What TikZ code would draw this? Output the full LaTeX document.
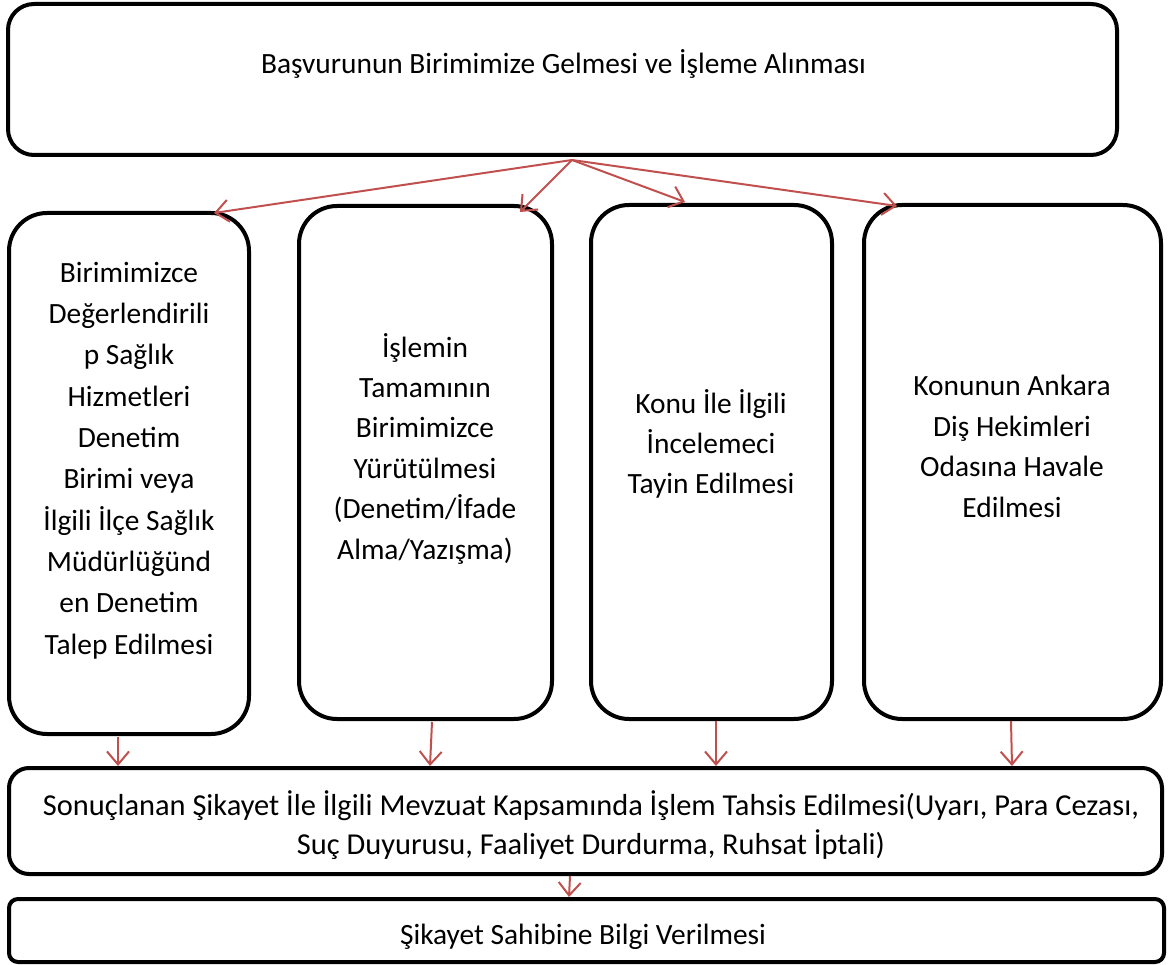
\documentclass[tikz,border=0pt]{standalone}
\usepackage{fontspec}
\setmainfont{Carlito}
\usetikzlibrary{arrows.meta,calc}
\definecolor{flowred}{RGB}{192,80,77}
\begin{document}
\begin{tikzpicture}[x=1pt,y=-1pt,
  box/.style={draw=black,line width=4pt,rectangle,inner sep=0pt},
  colbox/.style={box,rounded corners=38pt},
  txt/.style={align=center,inner sep=0pt,anchor=base,
    font=\fontsize{29.4}{41.3}\selectfont},
  flow/.style={draw=flowred,line width=2pt,
    -{Straight Barb[length=13pt,width=22pt,line width=2pt]}}]
\useasboundingbox (0,0) rectangle (1172,965);

% boxes
\node[box,rounded corners=26pt,minimum width=1109pt,minimum height=151pt] (top) at (562.5,79.5) {};
\node[colbox,minimum width=240pt,minimum height=521pt] (b1) at (129,473.5) {};
\node[colbox,minimum width=253pt,minimum height=513pt] (b2) at (425.5,462.5) {};
\node[colbox,minimum width=241pt,minimum height=514pt] (b3) at (711.5,462) {};
\node[colbox,minimum width=297pt,minimum height=514pt] (b4) at (1012.5,462) {};
\node[box,rounded corners=20pt,minimum width=1153pt,minimum height=106pt] (res) at (585.5,821) {};
\node[box,rounded corners=9pt,minimum width=1155pt,minimum height=63pt] (info) at (586.5,930.5) {};

% texts (placed by the baseline of their last line)
\node[txt] (ttop) at (563.5,74) {Başvurunun Birimimize Gelmesi ve İşleme Alınması};
\node[txt] (t1) at (129,654) {Birimimizce\\Değerlendirili\\p Sağlık\\Hizmetleri\\Denetim\\Birimi veya\\İlgili İlçe Sağlık\\Müdürlüğünd\\en Denetim\\Talep Edilmesi};
\node[txt,font=\fontsize{29.4}{40.4}\selectfont] (t2) at (425,559) {İşlemin\\Tamamının\\Birimimizce\\Yürütülmesi\\(Denetim/İfade\\Alma/Yazışma)};
\node[txt,font=\fontsize{29.4}{40}\selectfont] (t3) at (711,493) {Konu İle İlgili\\İncelemeci\\Tayin Edilmesi};
\node[txt,font=\fontsize{29.4}{40.4}\selectfont] (t4) at (1012,517) {Konunun Ankara\\Diş Hekimleri\\Odasına Havale\\Edilmesi};
\node[txt,font=\fontsize{30.4}{39}\selectfont] (t5) at (591,854) {Sonuçlanan Şikayet İle İlgili Mevzuat Kapsamında İşlem Tahsis Edilmesi(Uyarı, Para Cezası,\\Suç Duyurusu, Faaliyet Durdurma, Ruhsat İptali)};
\node[txt] (t6) at (583,944) {Şikayet Sahibine Bilgi Verilmesi};

% connector end points
\coordinate (hub) at (572,160);
\coordinate (in1) at (214,213);
\coordinate (in2) at (520,212);
\coordinate (in3) at (685,202);
\coordinate (in4) at (897,206);
\coordinate (out1) at (118,737);
\coordinate (out2) at (432,722);
\coordinate (out3) at (716,721);
\coordinate (out4) at (1011,721);
\coordinate (res1) at (118,766);
\coordinate (res2) at (430,766);
\coordinate (res3) at (716,766);
\coordinate (res4) at (1012,766);
\coordinate (resout) at (570,876);
\coordinate (infoin) at (569,897);

% connectors
\foreach \k in {1,2,3,4}{
  \draw[flow] (hub) -- (in\k);
  \draw[flow] (out\k) -- (res\k);
}
\draw[flow] (resout) -- (infoin);
\end{tikzpicture}
\end{document}
